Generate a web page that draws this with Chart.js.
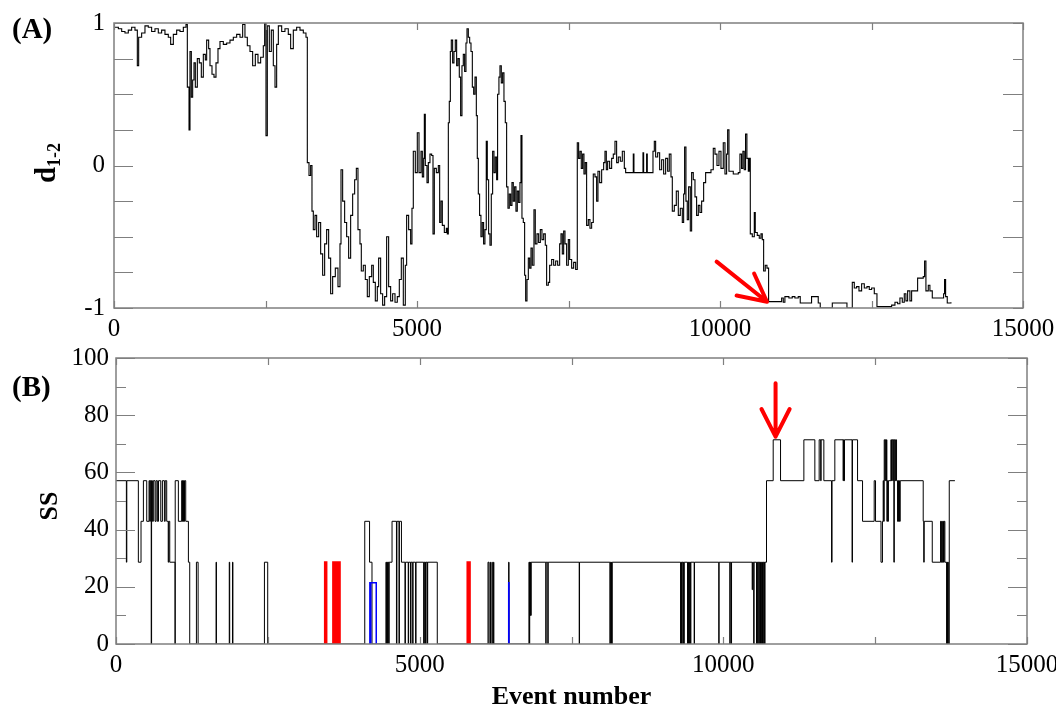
<!DOCTYPE html>
<html>
<head>
<meta charset="utf-8">
<script src="https://cdn.jsdelivr.net/npm/chart.js@4.4.1/dist/chart.umd.min.js"></script>
<style>
  html, body { margin: 0; padding: 0; background: #fff; overflow: hidden; }
  #wrapA { position: absolute; left: 0; top: 0; width: 1056px; height: 340px; }
  #wrapB { position: absolute; left: 0; top: 340px; width: 1056px; height: 368px; }
</style>
</head>
<body>
<div id="wrapA"><canvas id="chartA"></canvas></div>
<div id="wrapB"><canvas id="chartB"></canvas></div>
<script>
// tick labels
const xLabels = [0, 5000, 10000, 15000];
const dLabels = [-1, 0, 1];
const ssLabels = [0, 20, 40, 60, 80, 100];

// (A) d1-2 vs event number  [event, d]
const dTrace = [
  [0,0.97],[72,0.96],[127,0.94],[181,0.93],[236,0.95],[291,0.97],[346,0.95],[385,0.70],[407,0.90],[456,0.93],
  [511,0.98],[566,0.97],[621,0.94],[676,0.96],[731,0.93],[786,0.95],[841,0.92],[896,0.90],[935,0.85],[979,0.92],
  [1034,0.95],[1089,0.94],[1144,0.97],[1188,0.99],[1210,0.55],[1238,0.25],[1254,0.80],[1276,0.48],[1298,0.60],[1320,0.72],
  [1342,0.55],[1375,0.75],[1408,0.72],[1441,0.62],[1474,0.78],[1507,0.74],[1529,0.88],[1562,0.82],[1584,0.70],[1617,0.64],
  [1650,0.62],[1683,0.72],[1716,0.82],[1749,0.87],[1804,0.85],[1859,0.86],[1914,0.88],[1969,0.90],[2024,0.92],[2079,0.90],
  [2123,0.99],[2161,0.90],[2200,0.84],[2244,0.80],[2288,0.70],[2332,0.78],[2376,0.72],[2420,0.76],[2464,0.84],[2486,1.0],
  [2508,0.21],[2530,0.98],[2563,0.80],[2596,0.95],[2629,0.70],[2657,0.55],[2684,0.85],[2712,0.98],[2767,0.94],[2821,0.96],
  [2876,0.92],[2915,0.82],[2959,0.95],[3014,0.97],[3069,0.95],[3124,0.93],[3168,0.90],[3190,0.02],[3218,-0.07],[3245,0.0],
  [3267,-0.32],[3289,-0.45],[3317,-0.35],[3344,-0.50],[3377,-0.40],[3410,-0.62],[3443,-0.77],[3476,-0.55],[3509,-0.45],[3542,-0.65],
  [3575,-0.90],[3608,-0.78],[3652,-0.72],[3696,-0.85],[3729,-0.55],[3746,-0.03],[3773,-0.25],[3806,-0.40],[3839,-0.50],[3872,-0.65],
  [3905,-0.35],[3938,-0.20],[3971,-0.10],[3999,-0.02],[4026,-0.45],[4059,-0.55],[4081,-0.74],[4114,-0.70],[4147,-0.80],[4180,-0.92],
  [4213,-0.78],[4252,-0.70],[4279,-0.82],[4312,-0.95],[4345,-0.85],[4367,-0.65],[4400,-0.90],[4433,-0.98],[4466,-0.92],[4499,-0.50],
  [4532,-0.85],[4565,-0.95],[4598,-0.90],[4637,-0.96],[4675,-0.92],[4708,-0.80],[4741,-0.65],[4774,-0.98],[4807,-0.70],[4829,-0.35],
  [4862,-0.45],[4895,-0.55],[4917,-0.30],[4939,0.10],[4972,-0.05],[5005,0.23],[5033,-0.05],[5066,0.10],[5088,-0.08],[5110,0.05],
  [5121,0.36],[5137,0.0],[5165,-0.12],[5187,0.02],[5214,0.08],[5242,0.07],[5264,-0.48],[5286,-0.02],[5319,-0.05],[5352,0.0],
  [5374,-0.40],[5396,-0.25],[5418,-0.42],[5451,-0.47],[5484,-0.44],[5500,-0.48],[5517,0.30],[5533,0.45],[5550,0.80],[5566,0.88],
  [5588,0.72],[5610,0.80],[5632,0.88],[5654,0.70],[5676,0.75],[5698,0.62],[5720,0.35],[5742,0.70],[5764,0.78],[5786,0.66],
  [5808,0.86],[5825,0.96],[5847,0.90],[5869,0.86],[5891,0.80],[5913,0.55],[5935,0.50],[5957,0.62],[5979,0.35],[5995,0.05],
  [6012,-0.20],[6033,-0.35],[6055,-0.50],[6077,-0.40],[6099,-0.55],[6121,-0.45],[6143,0.17],[6160,-0.10],[6182,-0.48],[6204,-0.56],
  [6226,-0.20],[6248,0.10],[6270,-0.05],[6292,0.06],[6314,-0.10],[6330,0.50],[6352,0.62],[6369,0.70],[6391,0.58],[6413,0.65],
  [6435,0.45],[6457,0.30],[6479,-0.15],[6501,-0.30],[6523,-0.20],[6545,-0.28],[6567,-0.12],[6589,-0.25],[6611,-0.15],[6633,-0.32],
  [6655,-0.18],[6677,-0.26],[6699,-0.12],[6716,0.21],[6732,-0.37],[6754,-0.40],[6776,-0.77],[6793,-0.95],[6815,-0.80],[6837,-0.65],
  [6859,-0.72],[6881,-0.58],[6903,-0.70],[6930,-0.31],[6952,-0.55],[6980,-0.48],[7007,-0.54],[7035,-0.45],[7062,-0.52],[7090,-0.48],
  [7117,-0.56],[7139,-0.84],[7167,-0.82],[7189,-0.70],[7222,-0.66],[7255,-0.70],[7288,-0.67],[7321,-0.70],[7354,-0.55],[7376,-0.48],
  [7398,-0.62],[7420,-0.46],[7442,-0.55],[7469,-0.70],[7497,-0.52],[7519,-0.66],[7552,-0.72],[7585,-0.68],[7618,-0.73],[7645,0.16],
  [7667,0.05],[7689,0.10],[7711,-0.02],[7733,0.08],[7755,-0.06],[7777,0.02],[7799,-0.42],[7827,-0.38],[7854,-0.44],[7882,-0.40],
  [7909,-0.06],[7937,-0.08],[7964,-0.25],[7986,-0.04],[8014,-0.12],[8047,-0.03],[8080,0.02],[8102,0.10],[8124,-0.03],[8146,0.03],
  [8179,-0.02],[8212,0.05],[8239,0.08],[8267,0.17],[8294,0.02],[8322,0.06],[8355,0.03],[8388,0.10],[8421,-0.02],[8443,-0.05],
  [8569,0.08],[8580,-0.05],[8729,0.09],[8740,-0.05],[8789,0.08],[8800,-0.05],[8894,0.10],[8916,0.17],[8938,0.06],[8971,0.09],
  [9004,-0.03],[9037,0.04],[9070,-0.06],[9103,0.05],[9136,-0.04],[9163,0.08],[9191,-0.08],[9213,-0.32],[9246,-0.28],[9279,-0.18],
  [9312,-0.35],[9345,-0.30],[9378,-0.40],[9400,-0.20],[9416,0.13],[9438,-0.25],[9460,-0.38],[9482,-0.15],[9510,-0.46],[9532,-0.05],
  [9559,-0.10],[9587,-0.22],[9614,-0.35],[9642,-0.28],[9669,-0.33],[9697,-0.25],[9730,-0.12],[9763,-0.05],[9851,-0.03],[9889,0.12],
  [9917,0.08],[9950,0.0],[9983,0.10],[10016,-0.02],[10054,0.16],[10082,-0.06],[10109,0.08],[10126,0.25],[10148,-0.04],[10219,-0.06],
  [10302,-0.05],[10329,0.08],[10356,-0.02],[10378,0.10],[10400,-0.03],[10422,0.22],[10444,0.05],[10467,-0.04],[10483,0.05],[10500,-0.48],
  [10533,-0.50],[10566,-0.33],[10582,-0.47],[10615,-0.49],[10648,-0.51],[10676,-0.48],[10698,-0.52],[10720,-0.74],[10747,-0.70],[10775,-0.72],
  [10802,-0.955],[11017,-0.93],[11044,-0.96],[11071,-0.92],[11137,-0.93],[11192,-0.92],[11236,-0.93],[11291,-0.92],[11324,-0.965],[11511,-0.92],
  [11621,-0.965],[11654,-1.0],[11853,-0.965],[12095,-1.0],[12183,-0.82],[12216,-0.86],[12254,-0.85],[12293,-0.88],[12337,-0.83],[12381,-0.86],
  [12425,-0.85],[12463,-0.87],[12502,-0.86],[12546,-0.90],[12590,-0.99],[12832,-0.98],[12887,-0.96],[12931,-0.97],[12969,-0.93],[13008,-0.96],
  [13041,-0.90],[13068,-0.95],[13096,-0.88],[13134,-0.95],[13162,-0.88],[13261,-0.79],[13354,-0.78],[13376,-0.67],[13398,-0.88],[13437,-0.84],
  [13464,-0.88],[13503,-0.93],[13690,-0.90],[13706,-0.80],[13723,-0.92],[13750,-0.965],[13811,-0.96]
];

// (B) SS vs event number  [event, SS]
const ssTrace = [
  [0,57.1],[171,28.6],[178,57.1],[368,28.6],[412,42.9],[451,57.1],[506,42.9],[544,57.1],[555,42.9],[566,57.1],
  [580,0],[586,57.1],[600,42.9],[615,57.1],[643,42.9],[660,57.1],[681,42.9],[700,57.1],[737,42.9],[764,57.1],
  [797,42.9],[810,57.1],[835,42.9],[860,28.6],[868,42.9],[885,28.6],[972,0],[975,57.1],[1027,42.9],[1082,57.1],
  [1090,42.9],[1096,57.1],[1104,42.9],[1112,57.1],[1120,42.9],[1128,57.1],[1148,42.9],[1192,28.6],[1214,0],
  [1324,28.6],[1352,0],[1648,28.6],[1654,0],[1865,28.6],[1872,0],[1918,28.6],[1925,0],[2444,28.6],[2498,0],
  [4096,42.9],[4175,28.6],[4215,0],
  [4445,28.6],[4452,0],[4460,28.6],[4470,0],[4480,28.6],[4490,0],[4498,28.6],[4545,42.9],[4618,0],[4625,42.9],
  [4660,0],[4666,42.9],[4700,28.6],[4758,0],[4765,28.6],[4812,0],[4818,28.6],[4850,0],[4857,28.6],[4885,0],
  [4891,28.6],[4933,0],[4940,28.6],[5066,0],[5072,28.6],[5085,0],[5092,28.6],[5100,0],[5104,28.6],[5127,0],
  [5132,28.6],[5290,0],
  [6125,28.6],[6140,0],[6160,28.6],[6166,0],[6190,28.6],[6196,0],[6215,28.6],[6222,0],[6465,28.6],[6471,0],
  [6800,28.6],[6806,0],[6812,28.6],[6818,10],[6824,28.6],[6830,10],[6836,28.6],
  [7077,0],[7082,28.6],[7110,0],[7116,28.6],[7627,0],[7632,28.6],
  [8132,0],[8140,28.6],[8150,0],[8158,28.6],[8164,0],[8170,28.6],
  [9296,0],[9303,28.6],[9312,0],[9320,28.6],[9335,0],[9342,28.6],[9350,0],[9356,28.6],
  [9411,0],[9417,28.6],[9425,0],[9432,28.6],[9440,0],[9448,28.6],[9458,0],[9466,28.6],
  [9520,0],[9525,28.6],[9925,0],[9930,28.6],[10107,0],[10112,28.6],[10130,0],[10135,28.6],
  [10475,19],[10482,28.6],[10500,0],[10506,28.6],
  [10546,0],[10553,28.6],[10565,0],[10572,28.6],[10585,0],[10592,28.6],[10605,0],[10612,28.6],[10625,0],[10632,28.6],
  [10645,0],[10652,28.6],[10665,0],[10672,28.6],[10680,0],[10686,28.6],
  [10711,57.1],[10821,71.4],[10942,57.1],[11326,71.4],[11507,57.1],[11578,71.4],[11603,57.1],[11610,71.4],[11655,57.1],
  [11782,28.6],[11790,57.1],[11836,71.4],[11972,57.1],[11978,71.4],[11988,57.1],[11995,71.4],[12120,28.6],[12126,71.4],
  [12210,57.1],[12292,42.9],[12484,57.1],[12506,42.9],[12596,28.6],[12620,42.9],[12632,57.1],[12640,42.9],[12649,71.4],
  [12660,57.1],[12668,71.4],[12680,57.1],[12686,71.4],[12693,42.9],[12702,57.1],[12710,42.9],[12718,57.1],[12759,71.4],
  [12768,57.1],[12775,71.4],[12790,57.1],[12798,71.4],[12808,28.6],[12815,71.4],[12830,57.1],[12838,71.4],[12852,57.1],
  [12869,42.9],[12876,57.1],[12885,42.9],[12893,57.1],[12900,42.9],[12913,57.1],
  [13291,42.9],[13300,28.6],[13307,42.9],[13440,28.6],[13577,42.9],[13585,28.6],[13595,42.9],[13605,28.6],[13615,42.9],
  [13625,28.6],[13636,42.9],[13648,28.6],[13676,0],[13684,28.6],[13690,0],[13698,28.6],[13704,0],[13720,57.1],[13813,57.1]
];

// highlighted stretches of the SS trace
const ssRed = [
  [3436,0],[3440,28.6],[3465,0],[3466,null],
  [3572,0],[3575,28.6],[3592,0],[3593,null],
  [3615,0],[3619,28.6],[3630,0],[3638,28.6],[3650,0],[3658,28.6],[3670,0],[3676,28.6],[3685,0],[3686,null],
  [5784,0],[5787,28.6],[5795,0],[5803,28.6],[5812,0],[5819,28.6],[5826,0]
];
const ssBlue = [
  [4178,0],[4180,21.4],[4188,0],[4195,21.4],[4285,0],[4286,null],
  [6464,0],[6466,21.4],[6470,0]
];

// arrows: [event, value] tail -> tip
const arrowA = [[9944, -0.675], [10775, -0.956]];
const arrowB = [[10860, 91.2], [10860, 72.5]];

Chart.defaults.font.family = "'Liberation Serif', 'Times New Roman', serif";
Chart.defaults.color = '#000';

const toXY = arr => arr.map(p => ({ x: p[0], y: p[1] }));

function drawArrow(ctx, x0, y0, x1, y1) {
  const ang = Math.atan2(y1 - y0, x1 - x0);
  const len = 31, spread = 27 * Math.PI / 180;
  ctx.save();
  ctx.strokeStyle = '#ff0000';
  ctx.lineWidth = 4;
  ctx.lineCap = 'round';
  ctx.lineJoin = 'round';
  ctx.beginPath();
  ctx.moveTo(x0, y0);
  ctx.lineTo(x1, y1);
  ctx.moveTo(x1 - len * Math.cos(ang - spread), y1 - len * Math.sin(ang - spread));
  ctx.lineTo(x1, y1);
  ctx.lineTo(x1 - len * Math.cos(ang + spread), y1 - len * Math.sin(ang + spread));
  ctx.stroke();
  ctx.restore();
}

// frame with inward ticks, arrows and panel texts
function framePlugin(cfg) {
  return {
    id: 'frame' + cfg.name,
    afterDatasetsDraw(chart) {
      const { ctx, chartArea: a, scales: { x, y } } = chart;
      ctx.save();
      ctx.strokeStyle = '#7f7f7f';
      ctx.lineWidth = 1.5;
      ctx.strokeRect(a.left, a.top, a.right - a.left, a.bottom - a.top);
      ctx.lineWidth = 1.2;
      ctx.beginPath();
      x.ticks.forEach(t => {
        const px = Math.round(x.getPixelForValue(t.value)) + 0.5;
        ctx.moveTo(px, a.bottom); ctx.lineTo(px, a.bottom - 7);
        ctx.moveTo(px, a.top); ctx.lineTo(px, a.top + 7);
      });
      y.ticks.forEach(t => {
        const py = Math.round(y.getPixelForValue(t.value)) + 0.5;
        ctx.moveTo(a.left, py); ctx.lineTo(a.left + cfg.leftLen(t.value), py);
        ctx.moveTo(a.right, py); ctx.lineTo(a.right - cfg.rightLen(t.value), py);
      });
      ctx.stroke();
      ctx.restore();

      const ar = cfg.arrow;
      drawArrow(ctx, x.getPixelForValue(ar[0][0]), y.getPixelForValue(ar[0][1]),
                x.getPixelForValue(ar[1][0]), y.getPixelForValue(ar[1][1]));

      ctx.save();
      ctx.fillStyle = '#000';
      ctx.font = "bold 29px 'Liberation Serif'";
      ctx.textAlign = 'left';
      ctx.textBaseline = 'middle';
      ctx.fillText(cfg.panel, cfg.panelPos[0], cfg.panelPos[1]);
      cfg.drawTitles(ctx, chart);
      ctx.restore();
    }
  };
}

function scaleFit(w, h) {
  return {
    x: s => { s.height = h; s.paddingLeft = 0; s.paddingRight = 0; },
    y: s => { s.width = w; s.paddingTop = 0; s.paddingBottom = 0; }
  };
}

const fitA = scaleFit(114, 32);
new Chart(document.getElementById('chartA'), {
  type: 'line',
  data: {
    datasets: [{
      data: toXY(dTrace),
      borderColor: '#000',
      borderWidth: 1.1,
      pointRadius: 0,
      stepped: 'before',
      fill: false
    }]
  },
  options: {
    responsive: true,
    maintainAspectRatio: false,
    animation: false,
    events: [],
    layout: { padding: { left: 0, right: 33, top: 23, bottom: 0 } },
    plugins: { legend: { display: false }, tooltip: { enabled: false } },
    scales: {
      x: {
        type: 'linear', min: 0, max: 15000,
        afterFit: fitA.x,
        grid: { display: false, drawTicks: false },
        border: { display: false },
        ticks: {
          stepSize: 2500, autoSkip: false, maxRotation: 0, padding: 6,
          font: { size: 25 },
          callback: v => xLabels.includes(v) ? String(v) : ''
        }
      },
      y: {
        min: -1, max: 1,
        afterFit: fitA.y,
        grid: { display: false, drawTicks: false },
        border: { display: false },
        ticks: {
          stepSize: 0.25, autoSkip: false, padding: 9,
          font: { size: 25 },
          callback: v => dLabels.includes(v) ? String(v) : ''
        }
      }
    }
  },
  plugins: [framePlugin({
    name: 'A',
    panel: '(A)', panelPos: [12, 31],
    arrow: arrowA,
    leftLen: v => 19,
    rightLen: v => (Math.abs(v) === 0.5 ? 20 : 10),
    drawTitles: (ctx) => {
      ctx.translate(55, 163);
      ctx.rotate(-Math.PI / 2);
      ctx.textBaseline = 'alphabetic';
      ctx.font = "bold 29px 'Liberation Serif'";
      const wd = ctx.measureText('d').width;
      ctx.font = "bold 18px 'Liberation Serif'";
      const ws = ctx.measureText('1-2').width;
      const x0 = -(wd + ws) / 2;
      ctx.font = "bold 29px 'Liberation Serif'";
      ctx.fillText('d', x0, 0);
      ctx.font = "bold 18px 'Liberation Serif'";
      ctx.fillText('1-2', x0 + wd, 5);
    }
  })]
});

const fitB = scaleFit(116, 64);
new Chart(document.getElementById('chartB'), {
  type: 'line',
  data: {
    datasets: [{
      data: toXY(ssRed),
      borderColor: '#ff0000',
      borderWidth: 2,
      pointRadius: 0,
      stepped: 'before',
      spanGaps: false,
      fill: false,
      order: 1
    }, {
      data: toXY(ssBlue),
      borderColor: '#0000ff',
      borderWidth: 1.5,
      pointRadius: 0,
      stepped: 'before',
      spanGaps: false,
      fill: false,
      order: 1
    }, {
      data: toXY(ssTrace),
      borderColor: '#000',
      borderWidth: 1,
      pointRadius: 0,
      stepped: 'before',
      fill: false,
      order: 2
    }]
  },
  options: {
    responsive: true,
    maintainAspectRatio: false,
    animation: false,
    events: [],
    layout: { padding: { left: 0, right: 29, top: 18, bottom: 0 } },
    plugins: { legend: { display: false }, tooltip: { enabled: false } },
    scales: {
      x: {
        type: 'linear', min: 0, max: 15000,
        afterFit: fitB.x,
        grid: { display: false, drawTicks: false },
        border: { display: false },
        ticks: {
          stepSize: 2500, autoSkip: false, maxRotation: 0, padding: 6,
          font: { size: 25 },
          callback: v => xLabels.includes(v) ? String(v) : ''
        }
      },
      y: {
        min: 0, max: 100,
        afterFit: fitB.y,
        grid: { display: false, drawTicks: false },
        border: { display: false },
        ticks: {
          stepSize: 10, autoSkip: false, padding: 7,
          font: { size: 25 },
          callback: v => ssLabels.includes(v) ? String(v) : ''
        }
      }
    }
  },
  plugins: [framePlugin({
    name: 'B',
    panel: '(B)', panelPos: [12, 49],
    arrow: arrowB,
    leftLen: v => (v % 20 === 0 ? 19 : 10),
    rightLen: v => (v % 20 === 0 ? 19 : 10),
    drawTitles: (ctx, chart) => {
      const a = chart.chartArea;
      ctx.save();
      ctx.font = "bold 26px 'Liberation Serif'";
      ctx.textAlign = 'center';
      ctx.textBaseline = 'alphabetic';
      ctx.fillText('Event number', (a.left + a.right) / 2, 364);
      ctx.translate(57, 166);
      ctx.rotate(-Math.PI / 2);
      ctx.fillText('SS', 0, 0);
      ctx.restore();
    }
  })]
});
</script>
</body>
</html>
